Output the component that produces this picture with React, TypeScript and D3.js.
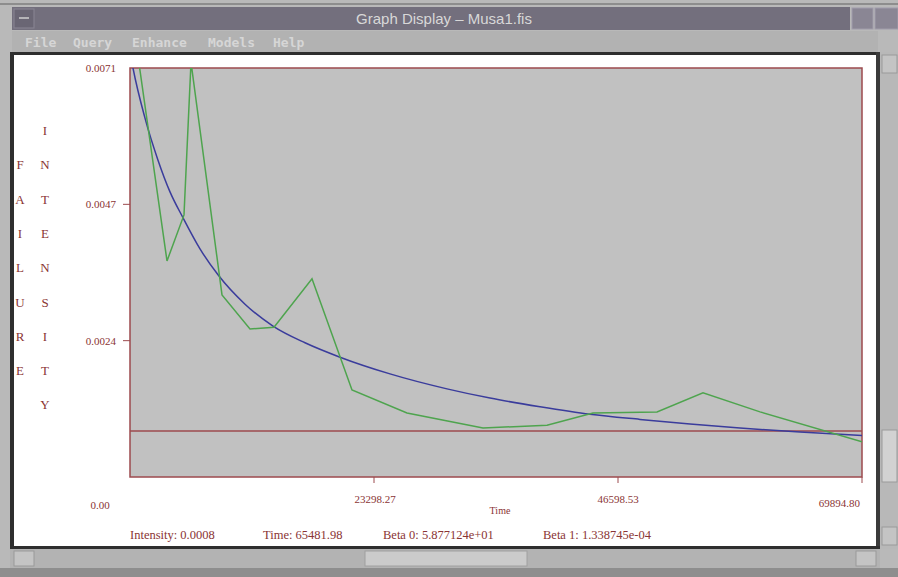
import React from 'react';
import * as d3 from 'd3';

const W = 898;
const H = 577;

const windowTitle = 'Graph Display \u2013 Musa1.fis';
const menuItems = ['File', 'Query', 'Enhance', 'Models', 'Help'];
const menuX = [25, 73, 132, 208, 273];

const timeMax = 69894.8;
const intensityMax = 0.0071;
const thresholdIntensity = 0.0008;

const xTickLabels = ['0.00', '23298.27', '46598.53', '69894.80'];
const yTickLabels = ['0.0071', '0.0047', '0.0024'];

const yLabelOuter = 'FAILURE';
const yLabelInner = 'INTENSITY';
const xLabel = 'Time';

const statusLabels = ['Intensity: 0.0008', 'Time: 65481.98', 'Beta 0: 5.877124e+01', 'Beta 1: 1.338745e-04'];
const statusX = [130, 263, 383, 543];

// observed failure intensity (green)
const observedTime = [0, 3533, 5156, 5825, 8785, 11458, 13750, 17378, 21198, 26449, 33706, 39817, 44210, 50321, 54713, 60156, 69895];
const observedIntensity = [0.00828, 0.00375, 0.00455, 0.0072, 0.00316, 0.00257, 0.0026, 0.00344, 0.00151, 0.00111, 0.00085, 0.0009, 0.00111, 0.00113, 0.00146, 0.00113, 0.00061];

// fitted model intensity (blue)
const fittedTime = [0, 286, 1432, 2674, 3819, 5061, 6684, 8403, 10981, 13654, 16710, 20052, 24826, 30269, 34375, 39149, 43923, 48697, 53472, 58246, 63975, 69895];
const fittedIntensity = [0.00738, 0.0071, 0.00623, 0.0055, 0.00495, 0.0045, 0.00396, 0.00351, 0.003, 0.00262, 0.00233, 0.00208, 0.00179, 0.00153, 0.00137, 0.00122, 0.00109, 0.001, 0.00092, 0.00085, 0.00078, 0.00072];

const PL = 130, PR = 862, PT = 68, PB = 477;
const textRed = '#8a3434';
const borderRed = '#9c4a4e';

export default function App() {
  const x = d3.scaleLinear().domain([0, timeMax]).range([PL, PR]);
  const y = d3.scaleLinear().domain([0, intensityMax]).range([PB, PT]);

  const obs = observedTime.map((t, i) => [t, observedIntensity[i]] as [number, number]);
  const fit = fittedTime.map((t, i) => [t, fittedIntensity[i]] as [number, number]);

  const lineLinear = d3.line<[number, number]>().x(d => x(d[0])).y(d => y(d[1]));
  const lineSmooth = d3.line<[number, number]>().x(d => x(d[0])).y(d => y(d[1])).curve(d3.curveMonotoneX);

  const xTickVals = xTickLabels.map((_, i) => (timeMax * i) / 3);
  const yTickVals = yTickLabels.map((_, i) => (intensityMax * (3 - i)) / 3);

  const serif = "'Liberation Serif', 'DejaVu Serif', serif";

  return (
    <svg width={W} height={H} style={{ position: 'absolute', left: 0, top: 0 }} xmlns="http://www.w3.org/2000/svg">
      <defs>
        <clipPath id="plotClip">
          <rect x={PL} y={PT} width={PR - PL} height={PB - PT} />
        </clipPath>
      </defs>
      {/* window frame */}
      <rect x={0} y={0} width={W} height={H} fill="#b9b9b9" />
      <rect x={0} y={3} width={W} height={2} fill="#8d8d8d" />
      <rect x={12} y={7} width={838} height={23} fill="#736f7d" />
      <rect x={14} y={9} width={20} height={19} fill="#6a6674" stroke="#8a8694" />
      <line x1={19} y1={18} x2={29} y2={18} stroke="#cfcfcf" strokeWidth={1.5} />
      <text x={444} y={24} textAnchor="middle" fontFamily="'Liberation Sans', 'DejaVu Sans', sans-serif" fontSize={15} fill="#d8d8d8">{windowTitle}</text>
      <rect x={852} y={8} width={21} height={21} fill="#8a8694" stroke="#a09cab" />
      <rect x={875} y={8} width={23} height={21} fill="#8a8694" stroke="#a09cab" />
      <rect x={12} y={31} width={866} height={21} fill="#b2b2b2" />
      {menuItems.map((m, i) => (
        <text key={m} x={menuX[i]} y={47} fontFamily="'DejaVu Sans Mono', monospace" fontWeight="bold" fontSize={13} fill="#d6d6d6">{m}</text>
      ))}
      <rect x={10} y={52} width={870} height={3} fill="#2e2e2e" />
      <rect x={10} y={52} width={4} height={497} fill="#2e2e2e" />
      <rect x={14} y={55} width={862} height={491} fill="#ffffff" />
      <rect x={876} y={52} width={4} height={497} fill="#3a3a3a" />
      <rect x={10} y={546} width={870} height={3} fill="#2e2e2e" />
      {/* right scrollbar */}
      <rect x={880} y={52} width={18} height={497} fill="#b8b8b8" />
      <rect x={882} y={55} width={15} height={18} fill="#c4c4c4" stroke="#9a9a9a" />
      <rect x={882} y={430} width={15} height={52} fill="#d2d2d2" stroke="#9a9a9a" />
      <rect x={882} y={527} width={15} height={18} fill="#c4c4c4" stroke="#9a9a9a" />
      {/* bottom scrollbar */}
      <rect x={10} y={549} width={870} height={19} fill="#b3b3b3" />
      <rect x={14} y={551} width={20} height={15} fill="#c4c4c4" stroke="#9a9a9a" />
      <rect x={365} y={551} width={162} height={15} fill="#cbcbcb" stroke="#a0a0a0" />
      <rect x={856} y={551} width={20} height={15} fill="#c4c4c4" stroke="#9a9a9a" />
      <rect x={0} y={568} width={W} height={9} fill="#8e8e8e" />

      {/* plot area */}
      <rect x={PL} y={PT} width={PR - PL} height={PB - PT} fill="#c1c1c1" stroke={borderRed} strokeWidth={1.5} />
      <g clipPath="url(#plotClip)">
        <line x1={PL} x2={PR} y1={y(thresholdIntensity)} y2={y(thresholdIntensity)} stroke={borderRed} strokeWidth={1.5} />
        <path d={lineSmooth(fit) || ''} fill="none" stroke="#3a3c9c" strokeWidth={1.5} />
        <path d={lineLinear(obs) || ''} fill="none" stroke="#4ea44e" strokeWidth={1.5} />
      </g>

      {/* y ticks */}
      {yTickVals.map((v, i) => (
        <g key={'y' + i}>
          {i > 0 && <line x1={PL - 7} x2={PL} y1={y(v)} y2={y(v)} stroke={borderRed} strokeWidth={1} />}
          <text x={116} y={y(v) + 4} textAnchor="end" fontFamily={serif} fontSize={11} fill={textRed}>{yTickLabels[i]}</text>
        </g>
      ))}
      {/* x ticks */}
      {xTickVals.map((v, i) => (
        <g key={'x' + i}>
          {i > 0 && <line x1={x(v)} x2={x(v)} y1={PB} y2={PB + 6} stroke={borderRed} strokeWidth={1} />}
        </g>
      ))}
      <text x={100} y={509} textAnchor="middle" fontFamily={serif} fontSize={11} fill={textRed}>{xTickLabels[0]}</text>
      <text x={x(xTickVals[1]) + 1} y={503} textAnchor="middle" fontFamily={serif} fontSize={11} fill={textRed}>{xTickLabels[1]}</text>
      <text x={x(xTickVals[2])} y={503} textAnchor="middle" fontFamily={serif} fontSize={11} fill={textRed}>{xTickLabels[2]}</text>
      <text x={x(xTickVals[3]) - 2} y={507} textAnchor="end" fontFamily={serif} fontSize={11} fill={textRed}>{xTickLabels[3]}</text>
      <text x={500} y={514} textAnchor="middle" fontFamily={serif} fontSize={10} fill={textRed}>{xLabel}</text>

      {/* vertical axis title */}
      {yLabelInner.split('').map((c, i) => (
        <text key={'in' + i} x={45} y={135 + i * 34.3} textAnchor="middle" fontFamily={serif} fontSize={13} fill={textRed}>{c}</text>
      ))}
      {yLabelOuter.split('').map((c, i) => (
        <text key={'out' + i} x={20} y={135 + (i + 1) * 34.3} textAnchor="middle" fontFamily={serif} fontSize={13} fill={textRed}>{c}</text>
      ))}

      {/* status line */}
      {statusLabels.map((s, i) => (
        <text key={'s' + i} x={statusX[i]} y={539} fontFamily={serif} fontSize={12.5} fill={textRed}>{s}</text>
      ))}
    </svg>
  );
}
